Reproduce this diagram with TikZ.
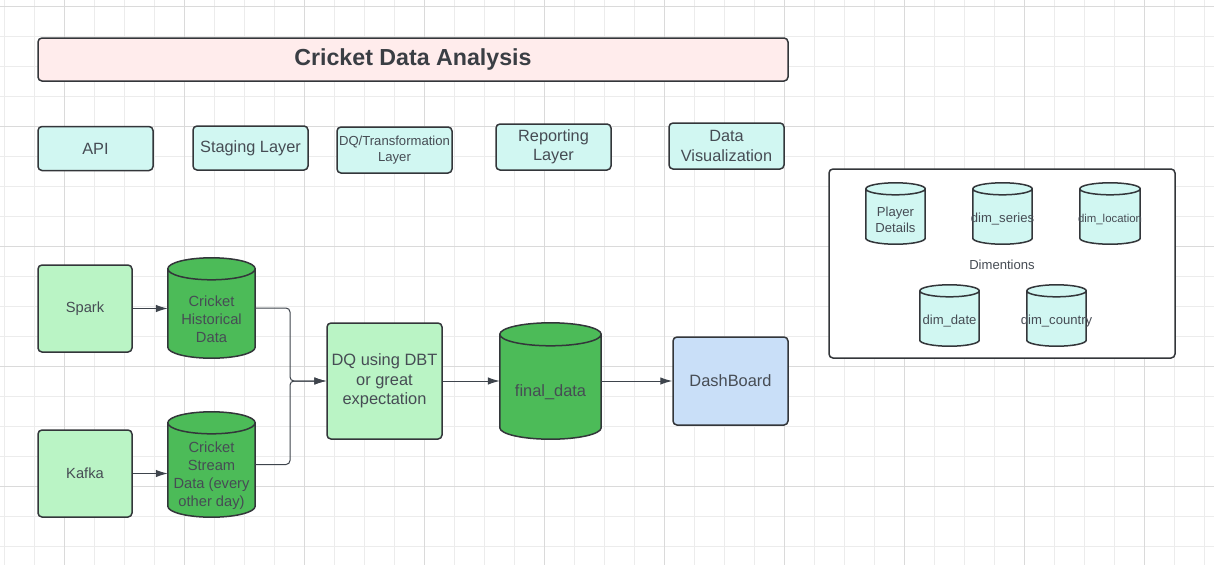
\documentclass[tikz,border=0pt]{standalone}
\usepackage{fontspec}
\setmainfont{Liberation Sans}
\usetikzlibrary{arrows.meta}
\usetikzlibrary{backgrounds}
\usetikzlibrary{calc}
\tikzset{>={Latex[length=12pt,width=7.5pt]}}

\definecolor{lineclr}{RGB}{51,54,58}
\definecolor{arrowclr}{RGB}{62,68,76}
\definecolor{txtclr}{RGB}{70,76,84}
\definecolor{titleclr}{RGB}{58,62,68}
\definecolor{pinkfill}{RGB}{255,236,236}
\definecolor{cyanfill}{RGB}{209,247,242}
\definecolor{lgreen}{RGB}{186,244,197}
\definecolor{dgreen}{RGB}{76,187,88}
\definecolor{lblue}{RGB}{201,223,248}
\definecolor{gridminor}{RGB}{236,236,236}
\definecolor{gridmajor}{RGB}{218,218,218}

\tikzset{
    box/.style={draw=lineclr, line width=1.5pt, rounded corners=4pt, text=txtclr, align=center, inner sep=0pt},
    layerbox/.style={box, fill=cyanfill, minimum width=115, minimum height=44, font=\fontsize{16.3}{19.5}\selectfont},
    srcbox/.style={box, fill=lgreen, minimum width=94, minimum height=87, font=\fontsize{14.7}{17.8}\selectfont},
    can/.style={text=txtclr, align=center, inner ysep=0pt, inner xsep=-20pt},
    dimcan/.style={can, minimum width=59, minimum height=49, font=\fontsize{13.1}{15.7}\selectfont},
    link/.style={draw=arrowclr, line width=1pt, ->},
}

% body of a database can, drawn round a named node
\newcommand{\dbcan}[3]{%
    \path[draw=lineclr, line width=1.5pt, fill=#2]
        let \p1=(#1.north west), \p2=(#1.south east), \n1={(\x2-\x1)/2} in
        (\x1,\y1+#3pt) -- (\x1,\y2+#3pt)
        arc[start angle=180, end angle=360, x radius=\n1, y radius=#3pt]
        -- (\x2,\y1+#3pt)
        arc[start angle=0, end angle=180, x radius=\n1, y radius=#3pt] -- cycle
        (\x1,\y1+#3pt) arc[start angle=180, end angle=360, x radius=\n1, y radius=#3pt];
}

\begin{document}
\begin{tikzpicture}[x=1pt, y=-1pt]
    \useasboundingbox (0,0) rectangle (1214,565);

    \begin{scope}[on background layer]
        \fill[white] (0,0) rectangle (1214,565);
        \foreach \k in {0,...,40} {
            \draw[gridminor, line width=1] ({4.3+30*\k},0) -- ({4.3+30*\k},565);
        }
        \foreach \k in {0,...,18} {
            \draw[gridminor, line width=1] (0,{6.7+30*\k}) -- (1214,{6.7+30*\k});
        }
        \foreach \k in {0,...,9} {
            \draw[gridmajor, line width=1] ({64.3+120*\k},0) -- ({64.3+120*\k},565);
        }
        \foreach \k in {0,...,4} {
            \draw[gridmajor, line width=1] (0,{6.7+120*\k}) -- (1214,{6.7+120*\k});
        }
        \node[box, fill=white, minimum width=346, minimum height=189] (dimbox) at (1002,263.5) {};
    \end{scope}

    % title and layers
    \node[box, fill=pinkfill, minimum width=750, minimum height=43, text=titleclr,
        font=\bfseries\fontsize{23.2}{27}\selectfont] (title) at (413,59.5) {Cricket Data Analysis};

    \node[layerbox] (api) at (95.5,148.5) {API};
    \node[layerbox] (staging) at (250.5,148) {Staging Layer};
    \node[layerbox, minimum height=46, font=\fontsize{13.1}{16.5}\selectfont] (dqlayer) at (394.5,150) {DQ/Transformation\\Layer};
    \node[layerbox, minimum height=46] (reporting) at (553.5,147) {Reporting\\Layer};
    \node[layerbox, minimum height=46] (visual) at (726.5,146) {Data\\Visualization};

    % pipeline
    \node[srcbox] (spark) at (85,308.5) {Spark};
    \node[srcbox] (kafka) at (85,473.5) {Kafka};
    \node[can, minimum width=87, minimum height=78, font=\fontsize{14.7}{17.8}\selectfont] (hist) at (211.5,319) {Cricket\\Historical\\Data};
    \node[can, minimum width=87, minimum height=83, font=\fontsize{14.7}{17.8}\selectfont] (stream) at (211.5,475.5) {Cricket\\Stream\\Data (every\\other day)};
    \node[box, fill=lgreen, minimum width=115, minimum height=116, font=\fontsize{16.4}{19.6}\selectfont] (dq) at (384.5,381) {DQ using DBT\\or great\\expectation};
    \node[can, minimum width=101, minimum height=93, font=\fontsize{16.4}{19.6}\selectfont] (final) at (550.5,392.5) {final\_data};
    \node[box, fill=lblue, minimum width=115, minimum height=88, font=\fontsize{16.4}{19.6}\selectfont] (dash) at (730.5,381) {DashBoard};

    % dimensions
    \node[text=txtclr, font=\fontsize{13.1}{15.7}\selectfont] (dimlabel) at (1002,265) {Dimentions};
    \node[dimcan] (player) at (895.5,219.5) {Player\\Details};
    \node[dimcan] (series) at (1002.5,219.5) {dim\_series};
    \node[dimcan, minimum width=60, font=\fontsize{11.4}{13.7}\selectfont] (location) at (1110,219.5) {dim\_location};
    \node[dimcan] (date) at (949.5,321.5) {dim\_date};
    \node[dimcan] (country) at (1056.5,321.5) {dim\_country};

    \begin{scope}[on background layer]
        \dbcan{hist}{dgreen}{11}
        \dbcan{stream}{dgreen}{11}
        \dbcan{final}{dgreen}{11.5}
        \foreach \dbname in {player,series,location,date,country} {
            \dbcan{\dbname}{cyanfill}{6}
        }
    \end{scope}

    % connectors
    \coordinate (merge) at (290,381);
    \draw[link] (spark.east) -- (spark.east -| hist.west);
    \draw[link] (kafka.east) -- (kafka.east -| stream.west);
    \draw[link, rounded corners=4] ([yshift=11]hist.east) -| (merge) -- (dq.west);
    \draw[link, rounded corners=4] ([yshift=11]stream.east) -| (merge) -- (dq.west);
    \draw[link] (dq.east) -- (dq.east -| final.west);
    \draw[link] (final.east |- dash.west) -- (dash.west);
\end{tikzpicture}
\end{document}
